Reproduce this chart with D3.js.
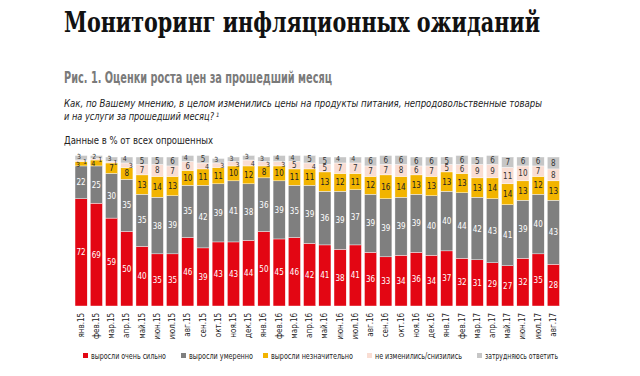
<!DOCTYPE html>
<html><head><meta charset="utf-8">
<script src="https://cdn.jsdelivr.net/npm/d3@7/dist/d3.min.js"></script>
<style>
body{margin:0;background:#fff;}
svg{display:block;}
</style></head>
<body>
<svg id="chart" width="640" height="376"></svg>
<script>
const months = ["янв.15","фев.15","мар.15","апр.15","май.15","июн.15","июл.15","авг.15","сен.15","окт.15","ноя.15","дек.15",
"янв.16","фев.16","мар.16","апр.16","май.16","июн.16","июл.16","авг.16","сен.16","окт.16","ноя.16","дек.16",
"янв.17","фев.17","мар.17","апр.17","май.17","июн.17","июл.17","авг.17"];
const strong   = [72,69,59,50,40,35,35,46,39,43,43,44,50,45,46,42,41,38,41,36,33,34,36,34,37,32,31,29,27,32,35,28];
const moderate = [22,25,30,35,35,38,39,35,42,39,41,38,36,39,35,39,36,39,37,39,39,39,39,40,40,44,42,43,41,39,40,43];
const slight   = [3,4,7,8,13,14,13,10,11,11,10,12,8,10,11,11,13,12,11,12,16,14,13,13,13,13,13,14,14,13,12,13];
const nochange = [1,1,1,3,7,8,7,6,4,3,3,4,3,3,5,4,5,7,7,7,7,8,6,7,5,6,9,9,11,10,7,8];
const unsure   = [3,2,3,4,5,5,6,4,5,3,3,3,3,4,4,5,5,4,4,6,6,6,6,6,5,6,5,6,7,6,6,8];
const seriesNames = ["выросли очень сильно","выросли умеренно","выросли незначительно","не изменились/снизились","затрудняюсь ответить"];
const seriesValues = [strong, moderate, slight, nochange, unsure];
const colors = ["#e30613","#7f7f7f","#f2b400","#f9ddd3","#c6c6c6"];
const labelColors = ["#fff","#fff","#222","#333","#333"];

const svg = d3.select("#chart");
const font = "'Liberation Sans Narrow','DejaVu Sans Condensed','Open Sans',sans-serif";

// Titles
svg.append("text").attr("x",64).attr("y",32)
  .attr("font-family","'DejaVu Serif','Liberation Serif',serif").attr("font-weight","bold")
  .attr("font-size",27).attr("fill","#111")
  .attr("textLength",476).attr("lengthAdjust","spacingAndGlyphs")
  .text("Мониторинг инфляционных ожиданий");
svg.append("text").attr("x",64).attr("y",83)
  .attr("font-family",font).attr("font-weight","bold").attr("font-size",15).attr("fill","#7a7a7a")
  .attr("textLength",268).attr("lengthAdjust","spacingAndGlyphs")
  .text("Рис. 1. Оценки роста цен за прошедший месяц");
svg.append("text").attr("x",64).attr("y",107)
  .attr("font-family",font).attr("font-style","italic").attr("font-size",11).attr("fill","#222")
  .attr("textLength",478).attr("lengthAdjust","spacingAndGlyphs")
  .text("Как, по Вашему мнению, в целом изменились цены на продукты питания, непродовольственные товары");
svg.append("text").attr("x",64).attr("y",120)
  .attr("font-family",font).attr("font-style","italic").attr("font-size",11).attr("fill","#222")
  .attr("textLength",150).attr("lengthAdjust","spacingAndGlyphs")
  .text("и на услуги за прошедший месяц?");
svg.append("text").attr("x",216).attr("y",117)
  .attr("font-family",font).attr("font-style","italic").attr("font-size",6).attr("fill","#222").text("1");
svg.append("text").attr("x",64).attr("y",144)
  .attr("font-family",font).attr("font-size",10.5).attr("fill","#222")
  .attr("textLength",149).attr("lengthAdjust","spacingAndGlyphs")
  .text("Данные в % от всех опрошенных");

// Scales
const x = d3.scaleBand().domain(months).range([73.5,561]).paddingInner(0.2).paddingOuter(0.1);
const y = d3.scaleLinear().domain([0,100]).range([306,157]);

const table = months.map((m,i)=>{
  const o={month:m};
  seriesValues.forEach((s,k)=>o["s"+k]=s[i]);
  return o;
});
const keys = seriesValues.map((s,k)=>"s"+k);
const stacked = d3.stack().keys(keys)(table);

const g = svg.append("g");
stacked.forEach((layer,k)=>{
  g.append("g").selectAll("rect").data(layer).join("rect")
    .attr("x",d=>x(d.data.month))
    .attr("width",x.bandwidth())
    .attr("y",d=>y(d[1]))
    .attr("height",d=>y(d[0])-y(d[1]))
    .attr("fill",colors[k])
    .attr("stroke","#fff").attr("stroke-width",0.4);
});
// label offsets for very thin segments (as in the reference, labels shift sideways)
function dx(d,k){
  const h = y(d[0])-y(d[1]);
  if (h >= 7) return 0;
  if (k===3) return 4;
  if (k===2) return -3;
  if (k===4) return -2;
  return 0;
}
stacked.forEach((layer,k)=>{
  g.append("g").selectAll("text").data(layer).join("text")
    .attr("x",d=>x(d.data.month)+x.bandwidth()/2+dx(d,k))
    .attr("y",d=>{
      const h = y(d[0])-y(d[1]);
      let yy=(y(d[0])+y(d[1]))/2+3;
      if (h<7 && k===4) yy -= 1.5;
      return yy;
    })
    .attr("text-anchor","middle")
    .attr("font-family",font)
    .attr("font-size",d=>(y(d[0])-y(d[1]))<7?7:8)
    .attr("fill",labelColors[k])
    .text(d=>d.data["s"+k]);
});

// X axis labels
const xAxis = d3.axisBottom(x).tickSize(0).tickPadding(0);
const ax = svg.append("g").attr("transform","translate(0,312)").call(xAxis);
ax.select(".domain").remove();
ax.selectAll(".tick text")
  .attr("font-family",font).attr("font-size",8).attr("fill","#222")
  .attr("transform","rotate(-90)").attr("text-anchor","end")
  .attr("x",0).attr("y",0).attr("dy","0.32em").attr("dx","-0.1em");

// Legend
const legendX = [83,181,263,367,477];
const legendW = [75,64,82,87,73];
const lg = svg.append("g");
seriesNames.forEach((n,k)=>{
  lg.append("rect").attr("x",legendX[k]).attr("y",353).attr("width",5).attr("height",5).attr("fill",colors[k]);
  lg.append("text").attr("x",legendX[k]+8).attr("y",358.5)
    .attr("font-family",font).attr("font-size",9).attr("fill","#222")
    .attr("textLength",legendW[k]).attr("lengthAdjust","spacingAndGlyphs").text(n);
});
</script>
</body></html>
